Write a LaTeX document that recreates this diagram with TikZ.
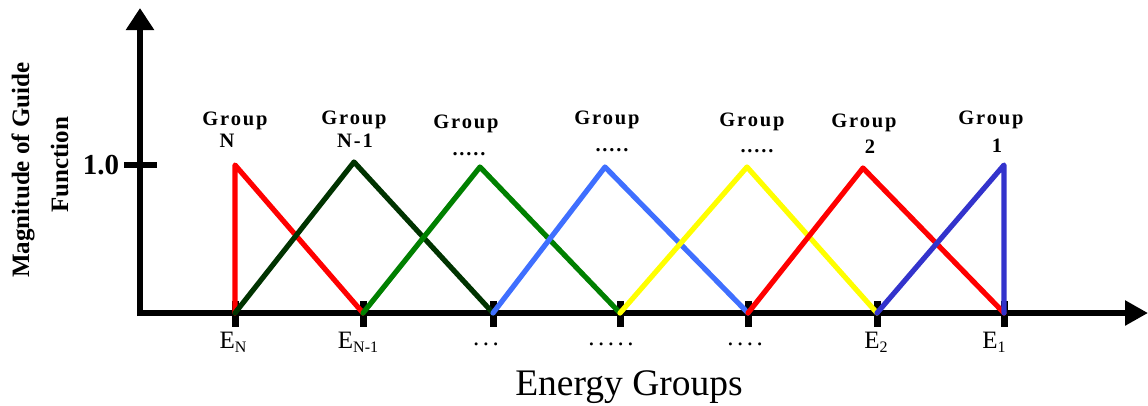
\documentclass[tikz,border=0pt]{standalone}
\usepackage{fontspec}
\setmainfont{Liberation Serif}
\usetikzlibrary{arrows.meta}
\definecolor{cRedN}{HTML}{FF0000}
\definecolor{cDkGreen}{HTML}{003300}
\definecolor{cGreen}{HTML}{008000}
\definecolor{cLtBlue}{HTML}{3F6FFF}
\definecolor{cYellow}{HTML}{FFFF00}
\definecolor{cDkBlue}{HTML}{3333CC}
\newcommand\Esub[1]{E\raisebox{-4pt}{\fontsize{16}{16}\selectfont #1}}
\tikzset{
  axisline/.style={line width=5.5pt, black},
  curve/.style={line width=5.2pt, line join=round, line cap=round},
  glab/.style={anchor=base, inner sep=0pt, font=\fontsize{20.5}{24}\selectfont\bfseries\addfontfeature{LetterSpace=9}},
  elab/.style={anchor=base, inner sep=0pt, font=\fontsize{25}{28}\selectfont},
  dlab/.style={anchor=base, inner sep=0pt, font=\fontsize{25}{28}\selectfont\addfontfeature{LetterSpace=14}},
  ylab/.style={anchor=base, inner sep=0pt, rotate=90, font=\fontsize{25}{28}\selectfont\bfseries},
  tickmark/.style={fill=black, draw=none},
}
\begin{document}
\begin{tikzpicture}[x=1pt,y=-1pt]
\useasboundingbox (0,0) rectangle (1148,405);
% axes
\coordinate (O) at (140,313);
\coordinate (Ytop) at (140,8);
\coordinate (Xend) at (1148,313);
\draw[axisline, -{Triangle[length=22pt,width=27pt]}] (140,316) -- (Ytop);
\draw[axisline, -{Triangle[length=23pt,width=24pt]}] (137,313) -- (Xend);
% tick 1.0
\coordinate (T1a) at (124,164.5);
\coordinate (T1b) at (157,164.5);
\draw[line width=6pt] (T1a) -- (T1b);
\node[anchor=base, inner sep=0pt, font=\fontsize{29}{30}\selectfont\bfseries] (one) at (101,174) {1.0};
% energy points
\foreach \n/\x in {EN/235, ENm/363, Ea/493, Eb/620, Ec/748, E2/877, E1/1004}{
  \coordinate (\n) at (\x,313);
  \fill[tickmark] (\x-3.5,301) rectangle (\x+3.5,327);
}
% peaks
\coordinate (PN) at (235,165);
\coordinate (PNm) at (354,162);
\coordinate (Pa) at (480,167);
\coordinate (Pb) at (605,167);
\coordinate (Pc) at (747,167);
\coordinate (P2) at (863,168);
\coordinate (P1) at (1004,165);
% curves
\draw[curve, cRedN] (EN) -- (PN) -- (ENm);
\draw[curve, cDkGreen] (EN) -- (PNm) -- (Ea);
\draw[curve, cGreen] (ENm) -- (Pa) -- (Eb);
\draw[curve, cLtBlue] (Ea) -- (Pb) -- (Ec);
\draw[curve, cYellow] (Eb) -- (Pc) -- (E2);
\draw[curve, cRedN] (Ec) -- (P2) -- (E1);
\draw[curve, cDkBlue] (E2) -- (P1) -- (E1);
% group labels
\node[glab] (gN) at (235,125) {Group};
\node[glab] (gNn) at (227,147) {N};
\node[glab] (gNm) at (354,124) {Group};
\node[glab] (gNmn) at (355,147) {N-1};
\node[glab] (ga) at (466,128) {Group};
\node[glab] (gan) at (469,155) {.....};
\node[glab] (gb) at (607,124) {Group};
\node[glab] (gbn) at (612,151) {.....};
\node[glab] (gc) at (752,126) {Group};
\node[glab] (gcn) at (757,152) {.....};
\node[glab] (g2) at (864,127) {Group};
\node[glab] (g2n) at (870,153) {2};
\node[glab] (g1) at (991,124) {Group};
\node[glab] (g1n) at (997,152) {1};
% energy labels
\node[elab] (lEN) at (233,348) {\Esub{N}};
\node[elab] (lENm) at (358,348) {\Esub{N-1}};
\node[dlab] (lEa) at (486,345) {...};
\node[dlab] (lEb) at (611,345) {.....};
\node[dlab] (lEc) at (745,345) {....};
\node[elab] (lE2) at (876,348) {\Esub{2}};
\node[elab] (lE1) at (994,348) {\Esub{1}};
% axis titles
\node[font=\fontsize{37.5}{40}\selectfont, anchor=base, inner sep=0pt] (xt) at (629,395) {Energy Groups};
\node[ylab] (yt1) at (29,170) {Magnitude of Guide};
\node[ylab] (yt2) at (68,165) {Function};
\end{tikzpicture}
\end{document}
